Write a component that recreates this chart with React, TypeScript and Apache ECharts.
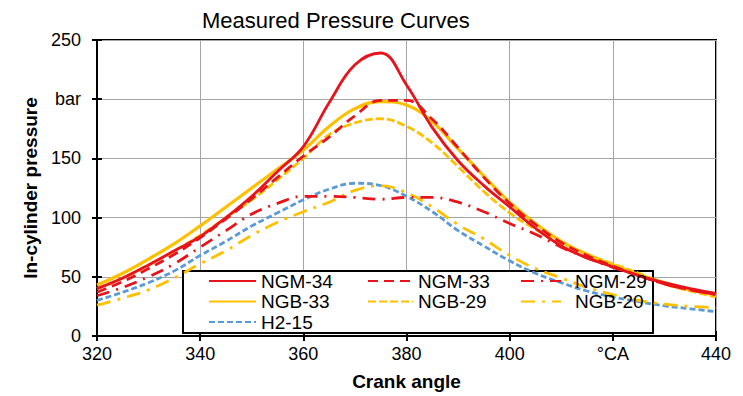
import React, { useEffect, useRef } from "react";
import * as echarts from "echarts";

const angles = [320, 325, 330, 335, 340, 345, 350, 355, 360, 365, 370, 375, 380, 385, 390, 395, 400, 405, 410, 415, 420, 425, 430, 435, 440];

const ngm34 = [40, 49, 60, 72, 84, 100, 118, 139, 160, 197, 229, 239, 212, 176, 148, 127, 109, 91, 76, 66, 58.5, 51, 45, 40, 36];
const ngm33 = [37, 46, 57, 69, 83, 99, 116, 134, 152, 168, 186, 199, 199, 183, 159, 134, 112, 94, 79, 68, 59, 51, 44, 39, 35];
const ngm29 = [34, 41, 50, 61, 75, 89, 103, 112, 118, 118, 117, 115.5, 117, 117, 113, 105, 95, 86, 75, 66, 58, 51, 44, 39, 35];
const ngb33 = [43, 53, 65, 78, 93, 109, 125, 141, 157, 177, 192, 198, 195, 181, 158, 135, 113, 95, 80, 69, 60, 52, 45, 39, 35];
const ngb29 = [40, 49, 60, 72, 85, 100, 115, 132, 150, 170, 180, 183.5, 177, 163, 143, 122, 104, 90, 79, 69, 61, 53, 44, 38, 33];
const ngb20 = [26, 32, 39, 49, 61, 72, 85, 96, 105, 113, 123, 127, 121, 109, 94, 82, 68, 57, 49, 41, 35, 30, 27, 25, 24];
const h215 = [30, 37, 45, 55, 68, 80, 93, 104, 115, 124, 129, 127, 118, 105, 89, 76, 63.5, 53, 45, 38, 33, 29, 25.5, 23, 20.5];

const xTicks = ["320", "340", "360", "380", "400", "°CA", "440"];
const yTicks = ["0", "50", "100", "150", "bar", "250"];

const RED = "#e8141b";
const ORANGE = "#ffc000";
const BLUE = "#5b9bd5";

const FONT = "Liberation Sans, Arial, sans-serif";

export default function App() {
  const ref = useRef<HTMLDivElement>(null);
  useEffect(() => {
    if (!ref.current) return;
    const chart = echarts.init(ref.current, null, { renderer: "svg" });
    const pts = (v: number[]) => angles.map((a, i) => [a, v[i]]);
    const mk = (name: string, data: number[], color: string, width: number, type: any) => ({
      name,
      type: "line",
      data: pts(data),
      smooth: 0.4,
      symbol: "none",
      showSymbol: false,
      lineStyle: { color, width, type, cap: "butt" },
      itemStyle: { color },
    });
    const legendText = { fontFamily: FONT, fontSize: 19, color: "#000", lineHeight: 20 };
    const legendBase = {
      orient: "vertical",
      itemHeight: 14,
      itemGap: 0.5,
      textStyle: legendText,
      itemStyle: { opacity: 0, borderWidth: 0 },
    };
    chart.setOption({
      animation: false,
      backgroundColor: "#fff",
      title: {
        text: "Measured Pressure Curves",
        left: 197,
        top: 4,
        textStyle: { fontFamily: FONT, fontSize: 22, fontWeight: "normal", color: "#000" },
      },
      grid: {
        left: 97,
        right: 27,
        top: 40,
        bottom: 60,
        show: true,
        borderColor: "#000",
        borderWidth: 2,
      },
      xAxis: [
        {
          type: "value",
          min: 320,
          max: 440,
          interval: 20,
          name: "Crank angle",
          nameLocation: "middle",
          nameGap: 36,
          nameTextStyle: { fontFamily: FONT, fontSize: 19, fontWeight: "bold", color: "#000" },
          axisLine: { show: true, lineStyle: { color: "#000", width: 2 } },
          axisTick: { show: true, length: 5, lineStyle: { color: "#000", width: 2 } },
          axisLabel: {
            margin: 9,
            fontFamily: FONT,
            fontSize: 18,
            color: "#000",
            formatter: (v: number) => xTicks[Math.round((v - 320) / 20)],
          },
          splitLine: { show: true, lineStyle: { color: "#a6a6a6", width: 1 } },
        },
        {
          type: "value",
          min: 320,
          max: 440,
          interval: 20,
          position: "bottom",
          axisLine: { show: false },
          axisTick: { show: true, inside: true, length: 5, lineStyle: { color: "#000", width: 2 } },
          axisLabel: { show: false },
          splitLine: { show: false },
        },
      ],
      yAxis: [
        {
          type: "value",
          min: 0,
          max: 250,
          interval: 50,
          name: "In-cylinder pressure",
          nameLocation: "middle",
          nameGap: 56,
          nameTextStyle: { fontFamily: FONT, fontSize: 19, fontWeight: "bold", color: "#000" },
          axisLine: { show: true, lineStyle: { color: "#000", width: 2 } },
          axisTick: { show: true, length: 5, lineStyle: { color: "#000", width: 2 } },
          axisLabel: {
            margin: 16,
            fontFamily: FONT,
            fontSize: 18,
            color: "#000",
            formatter: (v: number) => yTicks[Math.round(v / 50)],
          },
          splitLine: { show: true, lineStyle: { color: "#a6a6a6", width: 1 } },
        },
        {
          type: "value",
          min: 0,
          max: 250,
          interval: 50,
          position: "left",
          axisLine: { show: false },
          axisTick: { show: true, inside: true, length: 5, lineStyle: { color: "#000", width: 2 } },
          axisLabel: { show: false },
          splitLine: { show: false },
        },
      ],
      legend: [
        { ...legendBase, left: 203, top: 266, itemWidth: 47, data: ["NGM-34", "NGB-33", "H2-15"] },
        { ...legendBase, left: 362, top: 266, itemWidth: 45, data: ["NGM-33", "NGB-29"] },
        { ...legendBase, left: 515, top: 266, itemWidth: 40, data: ["NGM-29", "NGB-20"], textStyle: { ...legendText, padding: [0, 0, 0, 9] } },
      ],
      graphic: [
        {
          type: "rect",
          z: 3,
          shape: { x: 183, y: 271, width: 470, height: 62 },
          style: { fill: "#fff", stroke: "#000", lineWidth: 2 },
        },
      ],
      series: [
        mk("H2-15", h215, BLUE, 2.8, [6, 3]),
        mk("NGB-20", ngb20, ORANGE, 2.8, [14, 7, 3, 7]),
        mk("NGB-29", ngb29, ORANGE, 2.8, [8, 3]),
        mk("NGB-33", ngb33, ORANGE, 3.2, "solid"),
        mk("NGM-29", ngm29, RED, 2.8, [13, 7, 2, 7]),
        mk("NGM-33", ngm33, RED, 2.8, [10, 6]),
        mk("NGM-34", ngm34, RED, 2.8, "solid"),
      ],
    });
    return () => chart.dispose();
  }, []);
  return <div ref={ref} style={{ position: "fixed", left: 0, top: 0, width: 743, height: 396 }} />;
}
